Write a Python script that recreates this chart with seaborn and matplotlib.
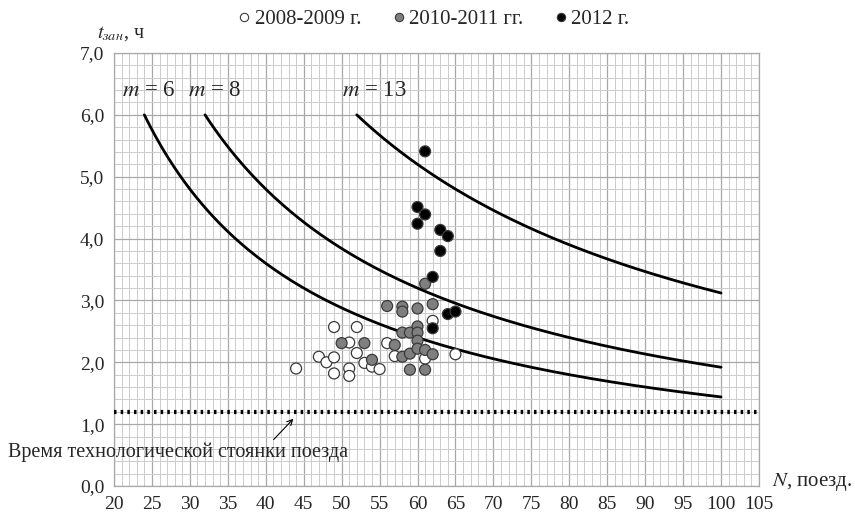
import matplotlib
matplotlib.use("Agg")
import matplotlib.pyplot as plt
from matplotlib.ticker import MultipleLocator, FuncFormatter
from matplotlib.lines import Line2D
import numpy as np
import pandas as pd
import seaborn as sns

# data
white_n = [44, 47, 48, 49, 49, 49, 51, 51, 51, 52, 52, 53, 54, 55, 56, 57, 61, 62, 65]
white_t = [1.90, 2.09, 2.00, 2.57, 2.08, 1.82, 2.32, 1.90, 1.78, 2.57, 2.15, 1.99, 1.93, 1.89, 2.31, 2.10, 2.06, 2.67, 2.13]
gray_n = [50, 53, 54, 56, 57, 58, 58, 58, 58, 59, 59, 59, 60, 60, 60, 60, 60, 61, 61, 61, 62, 62]
gray_t = [2.31, 2.31, 2.04, 2.91, 2.28, 2.90, 2.82, 2.48, 2.09, 2.48, 2.14, 1.88, 2.87, 2.58, 2.48, 2.35, 2.22, 2.20, 1.88, 3.27, 2.94, 2.13]
black_n = [61, 60, 61, 60, 63, 64, 63, 62, 64, 65, 62]
black_t = [5.41, 4.51, 4.39, 4.24, 4.14, 4.04, 3.80, 3.38, 2.78, 2.82, 2.55]
periods = ["2008-2009 г.", "2010-2011 гг.", "2012 г."]
m_values = [6, 8, 13]
hours = 24          # t = hours * m / N
t_max = 6.0
n_end = 100
t_stop = 1.2        # technological stop time

sns.set_style("white")
plt.rcParams["font.family"] = ["Liberation Serif", "DejaVu Serif"]
plt.rcParams["mathtext.fontset"] = "stix"

pts = pd.DataFrame({
    "N": white_n + gray_n + black_n,
    "t": white_t + gray_t + black_t,
    "period": [periods[0]] * len(white_n) + [periods[1]] * len(gray_n) + [periods[2]] * len(black_n),
})
colors = {periods[0]: "white", periods[1]: "#7f7f7f", periods[2]: "black"}

fig = plt.figure(figsize=(8.55, 5.16), dpi=100)
ax = fig.add_axes([0.1333, 0.0581, 0.8877 - 0.1333, 0.8973 - 0.0581])

# curves t = 24 m / N
for m in m_values:
    n = np.linspace(hours * m / t_max, n_end, 200)
    sns.lineplot(x=n, y=hours * m / n, color="black", lw=2.0, ax=ax, sort=False)

ax.axhline(t_stop, color="black", lw=3, ls=(0, (0.6, 1.0)), zorder=3)

sns.scatterplot(data=pts, x="N", y="t", hue="period", palette=colors,
                s=62, edgecolor="#3a3a3a", linewidth=0.9, legend=False, ax=ax, zorder=4)

ax.set_xlim(20, 105)
ax.set_ylim(0, 7)
ax.xaxis.set_major_locator(MultipleLocator(5))
ax.xaxis.set_minor_locator(MultipleLocator(1))
ax.yaxis.set_major_locator(MultipleLocator(1))
ax.yaxis.set_minor_locator(MultipleLocator(0.2))
ax.yaxis.set_major_formatter(FuncFormatter(lambda v, p: f"{v:.1f}".replace(".", ",")))
ax.grid(which="major", color="#a8a8a8", lw=0.9)
ax.grid(which="minor", color="#cccccc", lw=0.7)
ax.set_axisbelow(True)
for s in ax.spines.values():
    s.set_color("#a8a8a8")
    s.set_linewidth(0.9)
ax.tick_params(axis="both", which="major", length=4, color="#888888", labelsize=14, pad=3)
ax.tick_params(axis="both", which="minor", length=0)
ax.set_xlabel("")
ax.set_ylabel("")

# labels
for m, x0 in zip(m_values, [21.0, 29.8, 50.0]):
    ax.text(x0, 6.4, f"$m$ = {m}", fontsize=16.5, va="center", ha="left")
fig.text(0.114, 0.936, "$t_{зан}$, ч", fontsize=14.5, ha="left", va="center")
fig.text(0.903, 0.066, "$N$, поезд.", fontsize=15, ha="left", va="center")
fig.text(0.009, 0.124, "Время технологической стоянки поезда", fontsize=14.5, ha="left", va="center")
ax.annotate("", xy=(43.9, 1.12), xytext=(40.8, 0.72),
            arrowprops=dict(arrowstyle="->", color="black", lw=0.8))

handles = [Line2D([], [], ls="", marker="o", markersize=6, markerfacecolor=colors[p],
                  markeredgecolor="#3a3a3a", markeredgewidth=0.8) for p in periods]
fig.legend(handles, periods, loc="center", bbox_to_anchor=(0.505, 0.962), ncol=3, frameon=False,
           fontsize=15, handletextpad=0.0, columnspacing=1.3, handlelength=1.0)

fig.savefig("out.png", dpi=100)
